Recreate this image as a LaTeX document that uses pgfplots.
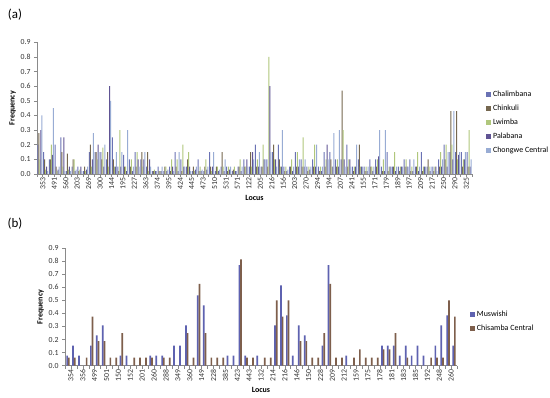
\documentclass[border=0pt]{standalone}
\usepackage{fontspec}
\setmainfont{Carlito}
\usepackage{pgfplots}
\pgfplotsset{compat=1.18}
\usepackage{pgfplotstable}

\definecolor{cA}{HTML}{6A72B4}
\definecolor{cB}{HTML}{75674F}
\definecolor{cC}{HTML}{B0C77C}
\definecolor{cD}{HTML}{605494}
\definecolor{cE}{HTML}{98ACD4}
\definecolor{cM}{HTML}{5E62B0}
\definecolor{cS}{HTML}{7E5F4C}
\definecolor{axgray}{HTML}{8A8A8A}

\pgfplotstableread{
x A B C D E
0 0.20 0.28 0.10 0.30 0.40
1 0.15 0.10 0.03 0.05 0.02
2 0.10 0.10 0.20 0.13 0.45
3 0.20 0.05 0.02 0.03 0.05
4 0.25 0.15 0.05 0.25 0.02
5 0.02 0.14 0.03 0.05 0.02
6 0.05 0.10 0.10 0.02 0.03
7 0.05 0.02 0.03 0.05 0.02
8 0.02 0.05 0.02 0.03 0.05
9 0.15 0.20 0.05 0.10 0.28
10 0.15 0.15 0.10 0.20 0.15
11 0.15 0.10 0.18 0.05 0.20
12 0.10 0.15 0.05 0.60 0.50
13 0.25 0.10 0.05 0.05 0.15
14 0.05 0.02 0.30 0.05 0.15
15 0.13 0.05 0.05 0.02 0.30
16 0.10 0.05 0.10 0.02 0.05
17 0.15 0.05 0.15 0.10 0.05
18 0.10 0.15 0.05 0.10 0.15
19 0.05 0.15 0.02 0.10 0.05
20 0.02 0.02 0.03 0.02 0.02
21 0.05 0.02 0.02 0.02 0.05
22 0.02 0.05 0.05 0.02 0.03
23 0.05 0.02 0.10 0.05 0.02
24 0.15 0.05 0.10 0.02 0.15
25 0.10 0.02 0.20 0.05 0.05
26 0.05 0.10 0.15 0.05 0.02
27 0.02 0.05 0.02 0.03 0.05
28 0.10 0.02 0.05 0.02 0.03
29 0.02 0.05 0.10 0.03 0.05
30 0.15 0.05 0.02 0.05 0.15
31 0.02 0.05 0.05 0.02 0.03
32 0.05 0.15 0.05 0.02 0.10
33 0.05 0.02 0.05 0.03 0.05
34 0.02 0.03 0.05 0.02 0.02
35 0.05 0.05 0.10 0.02 0.05
36 0.10 0.05 0.05 0.10 0.05
37 0.05 0.15 0.05 0.15 0.10
38 0.20 0.05 0.10 0.05 0.15
39 0.05 0.05 0.20 0.10 0.10
40 0.10 0.05 0.80 0.60 0.15
41 0.15 0.20 0.10 0.10 0.05
42 0.20 0.10 0.05 0.05 0.30
43 0.05 0.02 0.05 0.02 0.03
44 0.05 0.05 0.10 0.02 0.05
45 0.15 0.05 0.15 0.05 0.10
46 0.10 0.05 0.25 0.05 0.10
47 0.05 0.02 0.05 0.03 0.05
48 0.10 0.05 0.20 0.05 0.20
49 0.05 0.02 0.05 0.02 0.05
50 0.15 0.05 0.10 0.20 0.10
51 0.15 0.10 0.05 0.05 0.28
52 0.10 0.05 0.10 0.05 0.30
53 0.10 0.57 0.30 0.10 0.05
54 0.20 0.05 0.10 0.10 0.05
55 0.05 0.02 0.05 0.05 0.20
56 0.10 0.20 0.05 0.05 0.05
57 0.05 0.02 0.05 0.02 0.05
58 0.10 0.05 0.05 0.02 0.05
59 0.10 0.05 0.10 0.12 0.30
60 0.05 0.02 0.10 0.02 0.30
61 0.15 0.02 0.05 0.05 0.05
62 0.05 0.05 0.15 0.02 0.05
63 0.05 0.02 0.05 0.05 0.05
64 0.10 0.05 0.10 0.05 0.05
65 0.10 0.02 0.05 0.02 0.10
66 0.05 0.05 0.15 0.02 0.05
67 0.15 0.02 0.05 0.05 0.05
68 0.05 0.10 0.05 0.02 0.05
69 0.05 0.02 0.05 0.05 0.02
70 0.10 0.05 0.15 0.05 0.10
71 0.20 0.10 0.20 0.05 0.15
72 0.15 0.43 0.20 0.10 0.43
73 0.15 0.43 0.10 0.13 0.15
74 0.15 0.05 0.10 0.10 0.15
75 0.15 0.05 0.30 0.05 0.10
}\dataA

\pgfplotstableread{
x M S
0 0.077 0.0625
1 0.154 0.0625
2 0.077 0
3 0 0.0625
4 0.154 0.375
5 0.231 0.1875
6 0.308 0.1875
7 0 0.0625
8 0 0.0625
9 0.077 0.25
10 0.077 0
11 0 0.0625
12 0 0.0625
13 0 0.0625
14 0.077 0.0625
15 0.077 0
16 0.077 0.0625
17 0 0.0625
18 0.154 0
19 0.154 0
20 0.308 0.25
21 0 0.0625
22 0.538 0.625
23 0.462 0.25
24 0 0.0625
25 0 0.0625
26 0 0.0625
27 0.077 0
28 0.077 0
29 0.769 0.8125
30 0.077 0.0625
31 0 0.0625
32 0.077 0
33 0 0.0625
34 0 0.0625
35 0.308 0.5
36 0.615 0.375
37 0.385 0.5
38 0.077 0
39 0.308 0.1875
40 0.231 0.1875
41 0 0.0625
42 0 0.0625
43 0.154 0.25
44 0.769 0.625
45 0 0.0625
46 0 0.0625
47 0.077 0
48 0 0.0625
49 0 0.125
50 0 0.0625
51 0 0.0625
52 0 0.0625
53 0.154 0.125
54 0.154 0.125
55 0.154 0.25
56 0.077 0
57 0.154 0.0625
58 0.077 0
59 0.154 0
60 0.077 0
61 0 0.0625
62 0.154 0.0625
63 0.308 0.0625
64 0.385 0.5
65 0.154 0.375
}\dataB

\pgfplotsset{
  excel/.style={
    scale only axis, anchor=south west,
    axis x line*=bottom, axis y line*=left,
    axis line style={draw=axgray, line width=0.6pt},
    tick style={draw=axgray, line width=0.5pt},
    tick align=outside,
    major tick length=0pt, minor tick length=3bp,
    ymin=0, ymax=0.9,
    ytick={0,0.1,0.2,0.3,0.4,0.5,0.6,0.7,0.8,0.9},
    minor ytick={0,0.1,0.2,0.3,0.4,0.5,0.6,0.7,0.8,0.9},
    yticklabel style={/pgf/number format/fixed, /pgf/number format/fixed zerofill, /pgf/number format/precision=1, /pgf/number format/assume math mode=true, font=\fontsize{7.8}{9}\selectfont, text=black!80, xshift=-3bp},
    xticklabel style={rotate=90, anchor=east, font=\fontsize{7.8}{9}\selectfont, text=black!80, yshift=-3bp},
    xlabel={Locus}, ylabel={Frequency},
    label style={font=\bfseries\fontsize{8}{9}\selectfont},
    ylabel style={yshift=-2bp},
    xlabel style={yshift=1bp},
    ybar=0pt,
    legend style={draw=none, fill=none, font=\fontsize{8}{9}\selectfont, row sep=3bp, anchor=west},
    legend cell align=left,
    legend image code/.code={\fill[#1] (0bp,-2.5bp) rectangle (5bp,2.5bp);},
    clip=false,
  }
}

\begin{document}
\begin{tikzpicture}
\fill[white] (0,0) rectangle (550bp,398bp);
\path[use as bounding box] (0,0) rectangle (550bp,398bp);
\node[font=\fontsize{13}{15}\selectfont] at (15bp,383bp) {(a)};
\node[font=\fontsize{13}{15}\selectfont] at (15bp,174.5bp) {(b)};

\begin{axis}[excel,
  at={(37bp,224bp)}, width=435bp, height=131.7bp,
  xmin=-0.5, xmax=75.5,
  xtick={0,2,...,74},
  xticklabels={353,491,560,203,269,300,144,195,227,363,374,395,424,445,473,510,531,571,122,205,216,156,203,270,294,194,207,241,155,171,179,189,197,209,217,250,290,325},
  minor xtick={-0.5,0.5,...,75.5},
  bar width=1bp,
  legend style={at={(1.025,0.39)}},
]
\addplot[fill=cA, draw=none] table[x=x,y=A]{\dataA};
\addlegendentry{Chalimbana}
\addplot[fill=cB, draw=none] table[x=x,y=B]{\dataA};
\addlegendentry{Chinkuli}
\addplot[fill=cC, draw=none] table[x=x,y=C]{\dataA};
\addlegendentry{Lwimba}
\addplot[fill=cD, draw=none] table[x=x,y=D]{\dataA};
\addlegendentry{Palabana}
\addplot[fill=cE, draw=none] table[x=x,y=E]{\dataA};
\addlegendentry{Chongwe Central}
\end{axis}

\begin{axis}[excel,
  at={(65bp,32.3bp)}, width=392bp, height=117.7bp,
  xmin=-0.5, xmax=65.5,
  xtick={0,2,...,64},
  xticklabels={354,356,499,501,150,152,201,260,288,349,360,149,228,385,423,443,132,214,216,146,150,228,209,212,159,175,178,181,183,185,192,248,260},
  minor xtick={-0.5,0.5,...,65.5},
  bar width=1.7bp,
  legend style={at={(1.025,0.377)}},
]
\addplot[fill=cM, draw=none] table[x=x,y=M]{\dataB};
\addlegendentry{Muswishi}
\addplot[fill=cS, draw=none] table[x=x,y=S]{\dataB};
\addlegendentry{Chisamba Central}
\end{axis}
\end{tikzpicture}
\end{document}
